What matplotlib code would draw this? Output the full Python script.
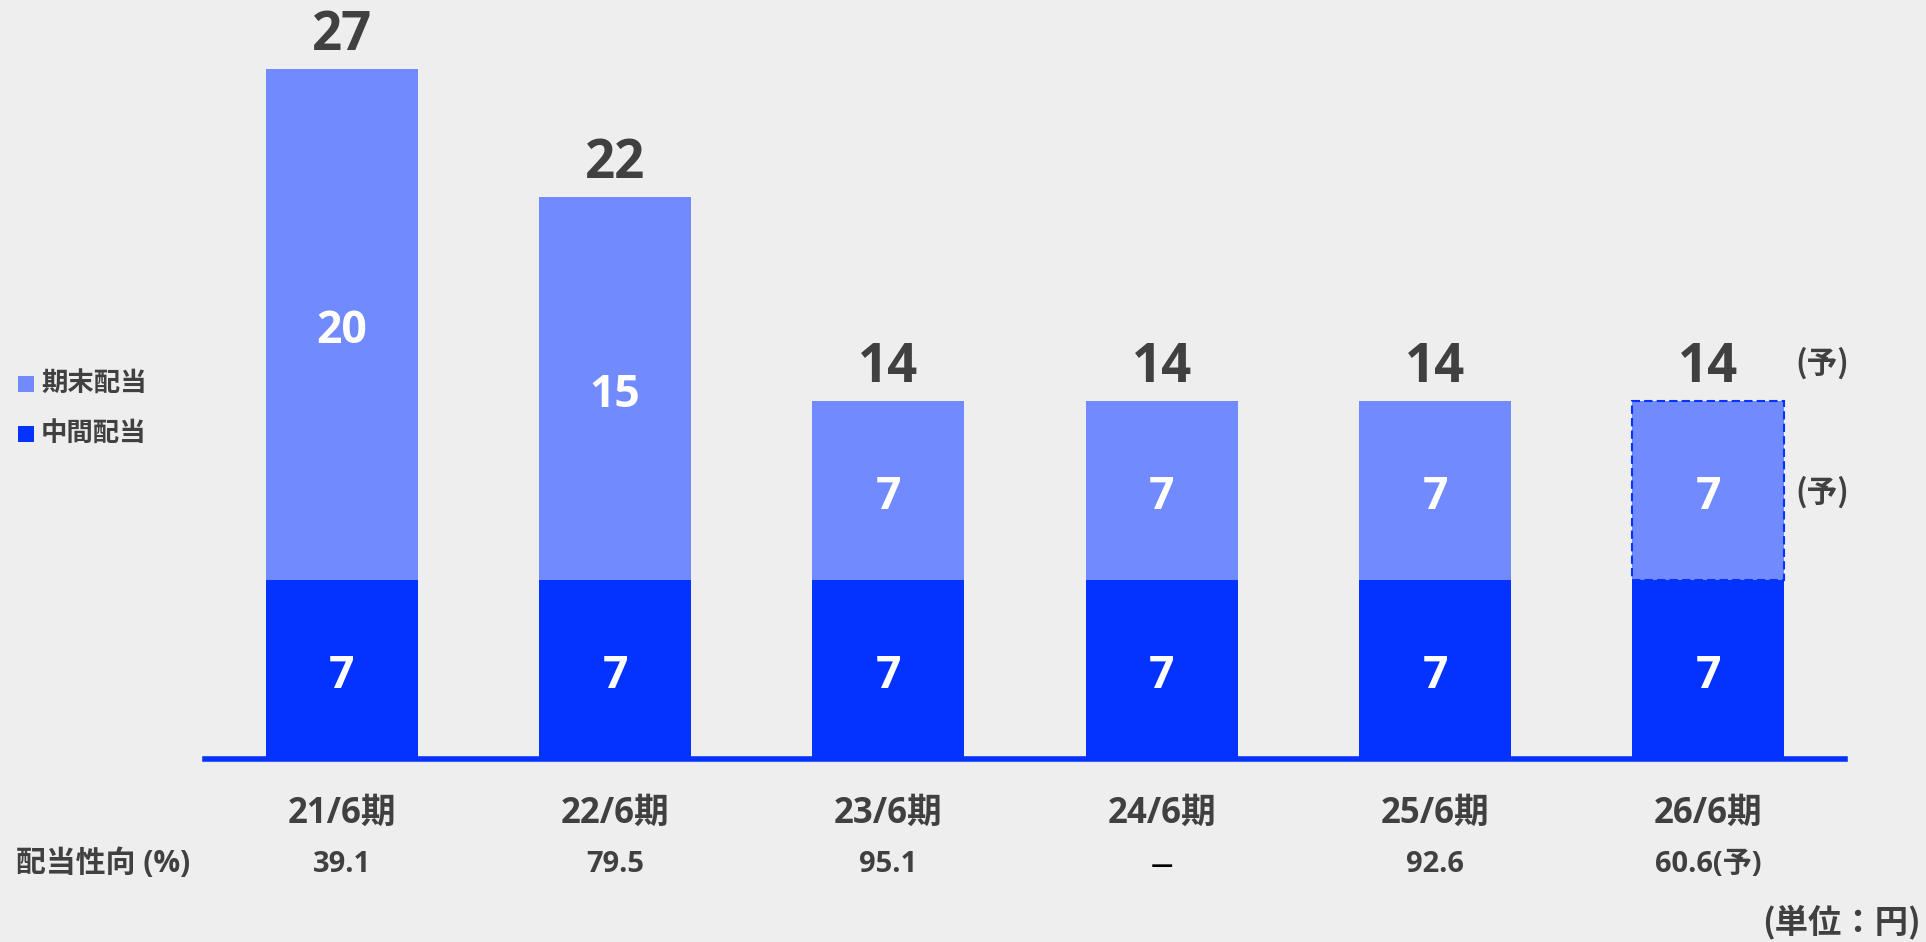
import matplotlib
matplotlib.use("Agg")
import matplotlib.pyplot as plt
from matplotlib.patches import Rectangle
from matplotlib import transforms

# ---- data ----
categories = ["21/6期", "22/6期", "23/6期", "24/6期", "25/6期", "26/6期"]
interim = [7, 7, 7, 7, 7, 7]          # 中間配当
year_end = [20, 15, 7, 7, 7, 7]        # 期末配当
totals = [27, 22, 14, 14, 14, 14]
payout = ["39.1", "79.5", "95.1", "–", "92.6", "60.6(予)"]
forecast_index = 5

# ---- style ----
BG = "#EEEEEE"
DARK = "#0433FF"
LIGHT = "#718BFF"
TXT = "#404040"
FAM = ['Open Sans', 'Noto Sans CJK JP', 'DejaVu Sans']
CJK = ['Noto Sans CJK JP', 'DejaVu Sans']
plt.rcParams['font.family'] = FAM
plt.rcParams['font.weight'] = 'bold'

W, H = 1926, 942
fig = plt.figure(figsize=(W / 100, H / 100), dpi=100, facecolor=BG)

def fx(px):
    return px / W

def fy(py):
    return 1 - py / H

ax_left, ax_right, base_px = 205, 1845, 759
ax = fig.add_axes([fx(ax_left), fy(base_px), fx(ax_right - ax_left), base_px / H])
ax.set_facecolor(BG)
ax.set_xlim(-0.5, 5.5)
ax.set_ylim(0, base_px / 25.556)
ax.axis('off')

x = list(range(len(categories)))
bw = 0.556
ax.bar(x, interim, width=bw, color=DARK, zorder=2)
ax.bar(x, year_end, width=bw, bottom=interim, color=LIGHT, zorder=2)

# forecast dashed outline on the year-end segment
ax.bar([x[forecast_index]], [year_end[forecast_index]], width=bw,
       bottom=[interim[forecast_index]], fill=False, edgecolor=DARK,
       linestyle=(0, (4, 2)), linewidth=1.5, zorder=3)

# baseline
ax.axhline(0, color=DARK, linewidth=4, zorder=4, clip_on=False)

# labels on bars
for i in x:
    ax.annotate(str(totals[i]), (i, totals[i]), xytext=(0, 13.5),
                textcoords='offset points', ha='center', va='baseline',
                fontsize=38, color=TXT, fontweight='bold')
    ax.annotate(str(year_end[i]), (i, interim[i] + year_end[i] / 2), xytext=(0, -13.5),
                textcoords='offset points', ha='center', va='baseline',
                fontsize=32, color='white', fontweight='bold')
    ax.annotate(str(interim[i]), (i, interim[i] / 2), xytext=(0, -13.5),
                textcoords='offset points', ha='center', va='baseline',
                fontsize=32, color='white', fontweight='bold')

# category labels and payout ratios
blend = transforms.blended_transform_factory(ax.transData, fig.transFigure)
for i in x:
    fig.text(i, fy(823), categories[i], transform=blend, ha='center', va='baseline',
             fontsize=25, color=TXT, fontweight='bold')
    if payout[i] == "–":
        fig.text(i, fy(866), "—", transform=blend, ha='center', va='center',
                 fontsize=16, color='black', fontweight='bold',
                 family=['DejaVu Sans'])
    else:
        fig.text(i, fy(872), payout[i], transform=blend, ha='center', va='baseline',
                 fontsize=21, color=TXT, fontweight='bold')

fig.text(fx(16), fy(872), "配当性向 (%)", ha='left', va='baseline',
         fontsize=21.5, color=TXT, fontweight='bold')

# forecast markers
fig.text(fx(1795), fy(363), "(予)", ha='left', va='center', fontsize=22,
         color=TXT, fontweight='bold', family=CJK)
fig.text(fx(1795), fy(492), "(予)", ha='left', va='center', fontsize=22,
         color=TXT, fontweight='bold', family=CJK)

# unit
fig.text(fx(1921), fy(922), "(単位：円)", ha='right', va='center', fontsize=24,
         color=TXT, fontweight='bold', family=CJK)

# legend
for (top, col, lab) in [(376, LIGHT, "期末配当"), (426, DARK, "中間配当")]:
    fig.patches.append(Rectangle((fx(18), fy(top + 16)), 16 / W, 16 / H,
                                 transform=fig.transFigure, facecolor=col,
                                 edgecolor='none'))
    fig.text(fx(41), fy(top + 8), lab, ha='left', va='center', fontsize=19,
             color=TXT, fontweight='bold', family=CJK)

fig.savefig("out.png", dpi=100, facecolor=BG)
